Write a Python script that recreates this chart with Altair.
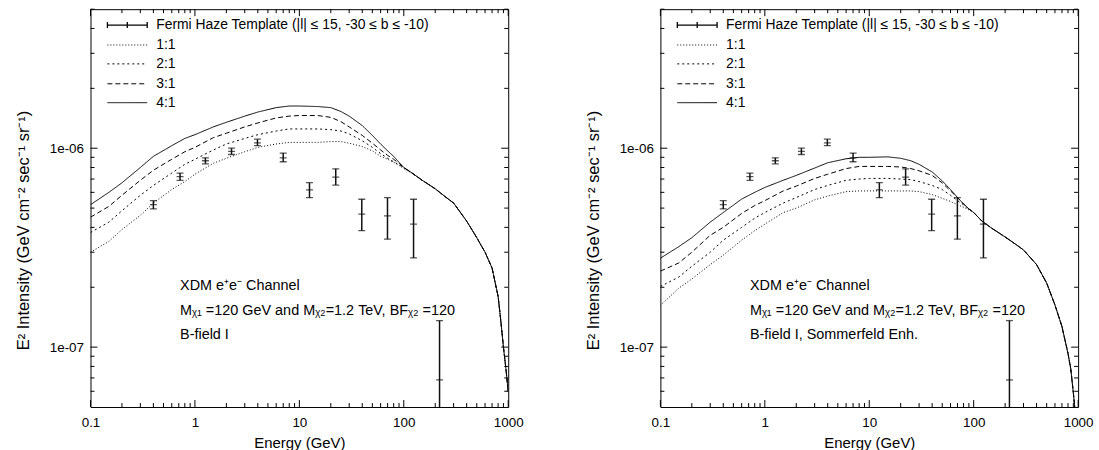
import altair as alt
import pandas as pd

FONT = "Liberation Sans"
W, H = 420, 400

# ---------------- data ----------------
energy_head = [0.1, 0.15, 0.2, 0.3, 0.4, 0.6, 0.8, 1, 1.5, 2, 3, 4, 6, 8, 10,
               15, 20, 25, 30, 40, 50, 60, 70, 80, 90, 100]
energy_tail = [120, 150, 200, 250, 300, 400, 500, 600, 700, 800, 850, 900, 950, 1000]

# Left panel: B-field I
left_11 = [3.0e-7, 3.4e-7, 3.9e-7, 4.6e-7, 5.3e-7, 6.2e-7, 6.8e-7, 7.4e-7, 8.4e-7, 8.9e-7,
           9.6e-7, 1.01e-6, 1.05e-6, 1.07e-6, 1.07e-6, 1.07e-6, 1.08e-6, 1.08e-6, 1.06e-6,
           1.02e-6, 9.7e-7, 9.1e-7, 8.8e-7, 8.5e-7, 8.2e-7, 7.9e-7]
left_21 = [3.77e-7, 4.25e-7, 4.85e-7, 5.8e-7, 6.5e-7, 7.5e-7, 8.3e-7, 8.8e-7, 9.8e-7, 1.05e-6,
           1.12e-6, 1.17e-6, 1.22e-6, 1.25e-6, 1.25e-6, 1.25e-6, 1.24e-6, 1.22e-6, 1.18e-6,
           1.09e-6, 1.01e-6, 9.4e-7, 8.9e-7, 8.55e-7, 8.25e-7, 8.0e-7]
left_31 = [4.5e-7, 5.1e-7, 5.8e-7, 6.9e-7, 7.75e-7, 8.8e-7, 9.6e-7, 1.01e-6, 1.13e-6, 1.19e-6,
           1.28e-6, 1.34e-6, 1.42e-6, 1.45e-6, 1.46e-6, 1.46e-6, 1.43e-6, 1.36e-6, 1.28e-6,
           1.16e-6, 1.06e-6, 9.8e-7, 9.2e-7, 8.8e-7, 8.4e-7, 8.0e-7]
left_41 = [5.2e-7, 6.0e-7, 6.7e-7, 8.0e-7, 9.1e-7, 1.03e-6, 1.12e-6, 1.17e-6, 1.28e-6, 1.35e-6,
           1.45e-6, 1.52e-6, 1.60e-6, 1.63e-6, 1.63e-6, 1.62e-6, 1.60e-6, 1.53e-6, 1.45e-6,
           1.30e-6, 1.16e-6, 1.05e-6, 9.7e-7, 9.1e-7, 8.5e-7, 8.0e-7]
left_tail = [7.5e-7, 6.9e-7, 6.25e-7, 5.7e-7, 5.3e-7, 4.3e-7, 3.55e-7, 3.0e-7, 2.5e-7,
             1.8e-7, 1.35e-7, 1.0e-7, 7.8e-8, 6.0e-8]

# Right panel: B-field I, Sommerfeld Enh.
right_11 = [1.62e-7, 1.98e-7, 2.2e-7, 2.6e-7, 2.9e-7, 3.45e-7, 3.85e-7, 4.15e-7, 4.75e-7, 5.0e-7,
            5.5e-7, 5.75e-7, 6.05e-7, 6.1e-7, 6.1e-7, 6.1e-7, 6.1e-7, 6.1e-7, 6.05e-7,
            5.85e-7, 5.6e-7, 5.4e-7, 5.2e-7, 5.05e-7, 4.9e-7, 4.75e-7]
right_21 = [2.02e-7, 2.25e-7, 2.55e-7, 3.0e-7, 3.45e-7, 4.0e-7, 4.45e-7, 4.75e-7, 5.3e-7, 5.65e-7,
            6.2e-7, 6.5e-7, 6.9e-7, 7.0e-7, 7.05e-7, 7.05e-7, 7.0e-7, 6.95e-7, 6.8e-7,
            6.5e-7, 6.2e-7, 5.8e-7, 5.45e-7, 5.2e-7, 4.95e-7, 4.75e-7]
right_31 = [2.41e-7, 2.65e-7, 3.0e-7, 3.65e-7, 4.0e-7, 4.7e-7, 5.15e-7, 5.45e-7, 6.1e-7, 6.45e-7,
            7.05e-7, 7.4e-7, 7.9e-7, 8.1e-7, 8.1e-7, 8.1e-7, 8.05e-7, 7.9e-7, 7.7e-7,
            7.3e-7, 6.7e-7, 6.1e-7, 5.65e-7, 5.25e-7, 4.95e-7, 4.75e-7]
right_41 = [2.8e-7, 3.2e-7, 3.55e-7, 4.25e-7, 4.75e-7, 5.55e-7, 6.0e-7, 6.35e-7, 6.9e-7, 7.3e-7,
            7.95e-7, 8.45e-7, 8.85e-7, 9.0e-7, 9.0e-7, 9.05e-7, 8.9e-7, 8.65e-7, 8.3e-7,
            7.6e-7, 6.85e-7, 6.2e-7, 5.65e-7, 5.25e-7, 4.95e-7, 4.75e-7]
right_tail = [4.3e-7, 3.95e-7, 3.58e-7, 3.3e-7, 3.08e-7, 2.6e-7, 2.1e-7, 1.63e-7, 1.27e-7,
              9.3e-8, 7.8e-8, 5.9e-8, 4.4e-8, 3.3e-8]

# Fermi haze data points
fermi_E = [0.40, 0.72, 1.26, 2.24, 3.97, 7.0, 12.5, 22.3, 39.6, 69.8, 124, 220]
fermi_val = [5.2e-7, 7.2e-7, 8.65e-7, 9.65e-7, 1.065e-6, 8.95e-7, 6.17e-7, 7.16e-7,
             4.66e-7, 4.57e-7, 4.15e-7, 6.84e-8]
fermi_hi = [5.45e-7, 7.5e-7, 8.95e-7, 1.0e-6, 1.11e-6, 9.45e-7, 6.71e-7, 7.88e-7,
            5.54e-7, 5.64e-7, 5.54e-7, 1.36e-7]
fermi_lo = [4.95e-7, 6.9e-7, 8.35e-7, 9.3e-7, 1.03e-6, 8.55e-7, 5.64e-7, 6.53e-7,
            3.85e-7, 3.49e-7, 2.81e-7, 1e-8]

ratios = ["1:1", "2:1", "3:1", "4:1"]
dashes = [[1, 2], [2, 3], [5, 3], [1, 0]]

x_major = [0.1, 1, 10, 100, 1000]
x_minor = [m * d for d in [0.1, 1, 10, 100] for m in range(2, 10)]
y_major = [1e-7, 1e-6]
y_minor = [6e-8, 7e-8, 8e-8, 9e-8] + [m * 1e-7 for m in range(2, 10)] + [m * 1e-6 for m in range(2, 6)]

legend_labels = ["Fermi Haze Template (|l| \u2264 15, -30 \u2264 b \u2264 -10)"] + ratios
legend_rows = [16, 36, 55, 75, 94]

# ---------------- scales / axes ----------------
xscale = alt.Scale(type="log", domain=[0.1, 1000], nice=False)
yscale = alt.Scale(type="log", domain=[5e-8, 5e-6], nice=False)
xaxis = alt.Axis(values=x_major, format=".1~f", labelFlush=False, ticks=False, domain=False,
                 grid=False, labelPadding=9, title="Energy (GeV)", titlePadding=6,
                 labelFontSize=13.5, titleFontSize=15, labelColor="black", titleColor="black",
                 titleFontWeight="normal", labelFont=FONT, titleFont=FONT)
yaxis = alt.Axis(values=y_major, labelExpr="replace(format(datum.value, '.0e'), 'e-', 'e-0')",
                 ticks=False, domain=False, grid=False, labelPadding=7,
                 title="E\u00b2 Intensity (GeV cm\u207b\u00b2 sec\u207b\u00b9 sr\u207b\u00b9)",
                 titlePadding=18, titleY=222, labelFontSize=13.5, titleFontSize=16.5,
                 labelColor="black", titleColor="black", titleFontWeight="normal",
                 labelFont=FONT, titleFont=FONT)


def X(field="E"):
    return alt.X(f"{field}:Q", scale=xscale, axis=xaxis)


def Y(field="I"):
    return alt.Y(f"{field}:Q", scale=yscale, axis=yaxis)


def panel(curves, tail, label3):
    energies = energy_head + energy_tail
    rows = []
    for r, head in zip(ratios, curves):
        for e, v in zip(energies, head + tail):
            rows.append({"E": e, "I": v, "ratio": r})
    df = pd.DataFrame(rows)
    pts = pd.DataFrame({"E": fermi_E, "I": fermi_val, "hi": fermi_hi, "lo": fermi_lo})

    layers = []
    # inward ticks on all four sides
    xt = pd.DataFrame({"E": x_major + x_minor, "len": [7] * len(x_major) + [4] * len(x_minor)})
    yt = pd.DataFrame({"I": y_major + y_minor, "len": [7] * len(y_major) + [4] * len(y_minor)})
    for length in [7, 4]:
        c = alt.Chart(xt[xt["len"] == length]).mark_rule(color="black", strokeWidth=1)
        layers.append(c.encode(x=X(), y=alt.value(H), y2=alt.value(H - length)))
        layers.append(c.encode(x=X(), y=alt.value(0), y2=alt.value(length)))
    for length in [7, 4]:
        c = alt.Chart(yt[yt["len"] == length]).mark_rule(color="black", strokeWidth=1)
        layers.append(c.encode(y=Y(), x=alt.value(0), x2=alt.value(length)))
        layers.append(c.encode(y=Y(), x=alt.value(W), x2=alt.value(W - length)))

    # model curves
    layers.append(
        alt.Chart(df).mark_line(color="black", strokeWidth=1, clip=True).encode(
            x=X(), y=Y(),
            strokeDash=alt.StrokeDash("ratio:N", scale=alt.Scale(domain=ratios, range=dashes),
                                      legend=None),
            order="E:Q",
        )
    )

    # data points with error bars
    base = alt.Chart(pts)
    layers.append(base.mark_rule(color="#111", strokeWidth=1.5, clip=True).encode(
        x=X(), y=Y("lo"), y2="hi:Q"))
    for f in ["hi", "lo", "I"]:
        layers.append(base.mark_tick(orient="horizontal", size=7, thickness=1.3,
                                     color="#111", clip=True).encode(x=X(), y=Y(f)))

    # legend (inside plot)
    one = pd.DataFrame({"a": [0]})
    lx0, lx1, tx = 17, 57, 66
    for i, (lab, ry) in enumerate(zip(legend_labels, legend_rows)):
        if i == 0:
            layers.append(alt.Chart(one).mark_rule(color="black", strokeWidth=1.3).encode(
                x=alt.value(lx0), x2=alt.value(lx1), y=alt.value(ry)))
            for px in [lx0, lx1, (lx0 + lx1) / 2]:
                layers.append(alt.Chart(one).mark_rule(color="black", strokeWidth=1.3).encode(
                    x=alt.value(px), y=alt.value(ry - 3), y2=alt.value(ry + 3)))
        else:
            layers.append(alt.Chart(one).mark_rule(color="black", strokeWidth=1,
                                                   strokeDash=dashes[i - 1]).encode(
                x=alt.value(lx0), x2=alt.value(lx1), y=alt.value(ry)))
        layers.append(alt.Chart(one).mark_text(text=lab, align="left", baseline="middle",
                                               font=FONT, fontSize=14, color="black").encode(
            x=alt.value(tx), y=alt.value(ry)))

    # annotation
    notes = ["XDM e\u207ae\u207b Channel",
             "M\u1d6a\u2081 =120 GeV and M\u1d6a\u2082=1.2 TeV, BF\u1d6a\u2082 =120",
             label3]
    for t, ny in zip(notes, [278, 303, 328]):
        layers.append(alt.Chart(one).mark_text(text=t, align="left", baseline="middle",
                                               font=FONT, fontSize=14.5, color="black").encode(
            x=alt.value(90), y=alt.value(ny)))

    return alt.layer(*layers).properties(width=W, height=H)


left = panel([left_11, left_21, left_31, left_41], left_tail, "B-field I")
right = panel([right_11, right_21, right_31, right_41], right_tail, "B-field I, Sommerfeld Enh.")

chart = alt.hconcat(left, right, spacing=60).properties(
    padding={"left": 14, "top": 7, "right": 5, "bottom": 2}
).configure(font=FONT).configure_view(stroke="black", strokeWidth=1)

chart.save("out.html", embed_options={"renderer": "svg", "actions": False})
